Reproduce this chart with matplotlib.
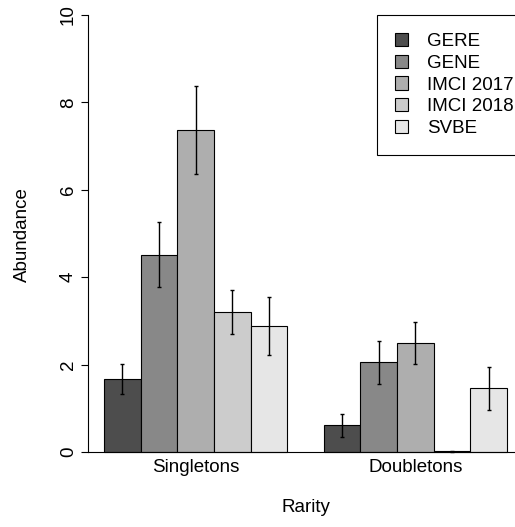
import numpy as np
import matplotlib
matplotlib.use("Agg")
import matplotlib.pyplot as plt

plt.rcParams['font.family'] = ['Liberation Sans', 'DejaVu Sans']

# data
groups = ["Singletons", "Doubletons"]
sites = ["GERE", "GENE", "IMCI 2017", "IMCI 2018", "SVBE"]
colors = ["#4D4D4D", "#888888", "#AEAEAE", "#CCCCCC", "#E6E6E6"]

singletons = [1.67, 4.51, 7.37, 3.20, 2.88]
single_lo = [1.33, 3.78, 6.36, 2.70, 2.22]
single_hi = [2.01, 5.26, 8.38, 3.71, 3.55]

doubletons = [0.62, 2.06, 2.49, 0.02, 1.46]
double_lo = [0.34, 1.56, 2.01, 0.01, 0.96]
double_hi = [0.87, 2.54, 2.97, 0.03, 1.94]

means = np.array([singletons, doubletons])
lows = np.array([single_lo, double_lo])
highs = np.array([single_hi, double_hi])

W, H = 515, 527
fig = plt.figure(figsize=(W / 100, H / 100), dpi=100)
# plot region like R barplot (right/top edges run off the picture)
ax = fig.add_axes([88 / W, (527 - 469.5) / H, (523 - 88) / W, 472 / H])

fs = 13.5
n = len(sites)
for g in range(len(groups)):
    # R barplot beside=TRUE: one bar gap before each group
    x = g * (n + 1) + 1.5 + np.arange(n)
    ax.bar(x, means[g], width=1.0, color=colors, edgecolor="black", linewidth=0.8,
           zorder=2)
    ax.errorbar(x, means[g], yerr=[means[g] - lows[g], highs[g] - means[g]],
                fmt="none", ecolor="black", elinewidth=1.0, capsize=1.5, zorder=3)
    ax.text(x.mean(), -0.15, groups[g], ha="center", va="top", fontsize=fs)

ax.axhline(0, color="black", linewidth=0.8, zorder=4)

ax.set_xlim(0.56, 12.44)
ax.set_ylim(-0.4, 10.4)
for s in ["top", "right", "bottom"]:
    ax.spines[s].set_visible(False)
ax.spines["left"].set_bounds(0, 10)
ax.spines["left"].set_linewidth(0.8)
ax.set_xticks([])
ax.set_yticks(np.arange(0, 11, 2))
ax.tick_params(axis="y", length=5, width=0.8, labelsize=fs, pad=3)
for lab in ax.get_yticklabels():
    lab.set_rotation(90)
    lab.set_va("center")

fig.text(22 / W, 1 - 235 / H, "Abundance", rotation=90, ha="center", va="center", fontsize=fs)
fig.text(306 / W, 1 - 508 / H, "Rarity", ha="center", va="center", fontsize=fs)

handles = [plt.Rectangle((0, 0), 1, 1, facecolor=c, edgecolor="black", linewidth=0.8) for c in colors]
leg = ax.legend(handles, sites, loc="upper left", bbox_to_anchor=(377 / W, 1 - 15 / H),
                bbox_transform=fig.transFigure, borderaxespad=0, fontsize=fs,
                fancybox=False, framealpha=1, edgecolor="black",
                handlelength=0.7, handleheight=0.7, handletextpad=1.0,
                borderpad=0.95, labelspacing=0.25)
leg.get_frame().set_linewidth(0.8)

fig.savefig("out.png", dpi=100)
